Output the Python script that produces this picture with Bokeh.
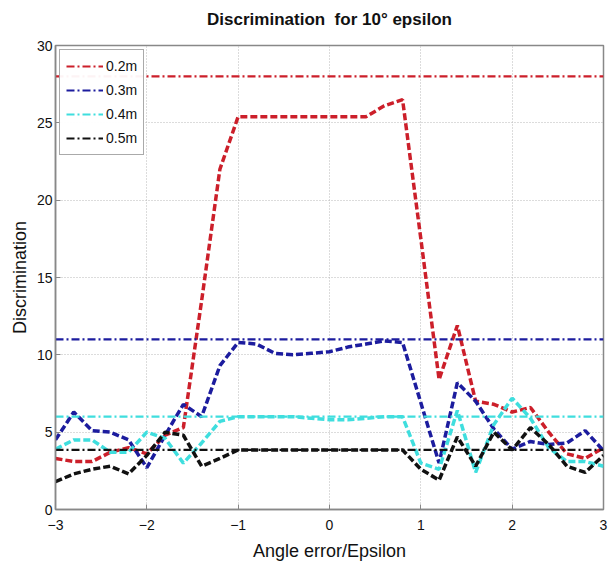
from bokeh.plotting import figure
from bokeh.models import Legend, LegendItem, FixedTicker, Range1d, Title
from bokeh.embed import file_html
from bokeh.resources import INLINE

x_vals = [-3.0, -2.8, -2.6, -2.4, -2.2, -2.0, -1.8, -1.6, -1.4, -1.2, -1.0,
          -0.8, -0.6, -0.4, -0.2, 0.0, 0.2, 0.4, 0.6, 0.8, 1.0,
          1.2, 1.4, 1.6, 1.8, 2.0, 2.2, 2.4, 2.6, 2.8, 3.0]

red_02 = [3.3, 3.1, 3.1, 3.7, 4.0, 3.6, 4.8, 5.3, 13.5, 22.0, 25.4,
          25.4, 25.4, 25.4, 25.4, 25.4, 25.4, 25.4, 26.1, 26.5, 17.5,
          8.4, 11.9, 7.0, 6.8, 6.3, 6.6, 5.0, 3.6, 3.3, 4.0]
blue_03 = [4.5, 6.3, 5.1, 5.0, 4.5, 2.7, 4.8, 6.8, 6.0, 9.3, 10.8,
           10.7, 10.1, 10.0, 10.1, 10.2, 10.5, 10.7, 10.9, 10.8, 6.9,
           3.0, 8.2, 7.0, 5.2, 3.9, 4.4, 4.2, 4.3, 5.1, 3.8]
cyan_04 = [3.9, 4.5, 4.5, 3.7, 3.7, 5.0, 4.6, 3.0, 4.3, 5.7, 6.0,
           6.0, 6.0, 6.0, 5.9, 5.8, 5.8, 5.9, 6.0, 6.0, 3.0,
           2.6, 6.4, 2.4, 5.5, 7.2, 5.9, 4.0, 3.1, 3.1, 2.8]
black_05 = [1.8, 2.3, 2.6, 2.8, 2.3, 3.5, 5.0, 4.8, 2.8, 3.3, 3.85,
            3.85, 3.85, 3.85, 3.85, 3.85, 3.85, 3.85, 3.85, 3.85, 2.6,
            1.9, 4.7, 2.8, 5.0, 3.85, 5.3, 4.2, 2.8, 2.4, 3.5]

ref_levels = [28.0, 11.0, 6.0, 3.85]
labels = ["0.2m", "0.3m", "0.4m", "0.5m"]
colors = ["#cc1f2a", "#1c1c9e", "#3fdede", "#111111"]
series = [red_02, blue_03, cyan_04, black_05]

x_ticks = [-3, -2, -1, 0, 1, 2, 3]
y_ticks = [0, 5, 10, 15, 20, 25, 30]

FONT = "Liberation Sans"

p = figure(width=608, height=563, output_backend="svg", toolbar_location=None,
           x_range=Range1d(-3, 3), y_range=Range1d(0, 30),
           min_border_left=55, min_border_right=5, min_border_top=45,
           min_border_bottom=51,
           title="Discrimination\u00a0 for 10\u00b0 epsilon")

p.title.text_font = FONT
p.title.text_font_size = "17px"
p.title.text_font_style = "bold"
p.title.align = "center"
p.title.text_color = "#111111"
p.title.standoff = 0

# spacer between title and frame
p.add_layout(Title(text="\u00a0", text_font_size="13px", standoff=0), "above")

p.outline_line_color = "#888888"
p.outline_line_width = 1.5

for ax in (p.xaxis[0], p.yaxis[0]):
    ax.axis_line_color = "#888888"
    ax.axis_line_width = 1.5
    ax.major_tick_in = 5
    ax.major_tick_out = 0
    ax.minor_tick_line_color = None
    ax.major_tick_line_color = "#888888"
    ax.major_label_text_font = FONT
    ax.major_label_text_font_size = "14px"
    ax.major_label_text_color = "#111111"
    ax.axis_label_text_font = FONT
    ax.axis_label_text_font_size = "18px"
    ax.axis_label_text_font_style = "normal"
    ax.axis_label_text_color = "#111111"

p.xaxis.ticker = FixedTicker(ticks=x_ticks)
p.yaxis.ticker = FixedTicker(ticks=y_ticks)
p.xaxis.axis_label = "Angle error/Epsilon"
p.yaxis.axis_label = "Discrimination"
p.xaxis.major_label_standoff = 10
p.yaxis.major_label_standoff = 3
p.xaxis.axis_label_standoff = 8
p.yaxis.axis_label_standoff = 4

p.xgrid.grid_line_color = "#b8b8b8"
p.ygrid.grid_line_color = "#b8b8b8"
p.xgrid.grid_line_dash = "1 2"
p.ygrid.grid_line_dash = "1 2"

items = []
for lvl, lab, col, ys in zip(ref_levels, labels, colors, series):
    r_ref = p.line(x=[x_vals[0], x_vals[-1]], y=[lvl, lvl], line_color=col,
                   line_width=2.2, line_dash="8 3 2 3")
    p.line(x=x_vals, y=ys, line_color=col, line_width=3.5, line_dash="7 3")
    items.append(LegendItem(label=lab, renderers=[r_ref]))

legend = Legend(items=items, location="top_left")
legend.label_text_font = FONT
legend.label_text_font_size = "14px"
legend.label_text_color = "#111111"
legend.glyph_width = 37
legend.glyph_height = 20
legend.spacing = 4
legend.padding = 6
legend.margin = 4
legend.border_line_color = "#555555"
legend.border_line_width = 1
legend.label_standoff = 3
p.add_layout(legend)

open("out.html", "w").write(file_html(p, INLINE))
